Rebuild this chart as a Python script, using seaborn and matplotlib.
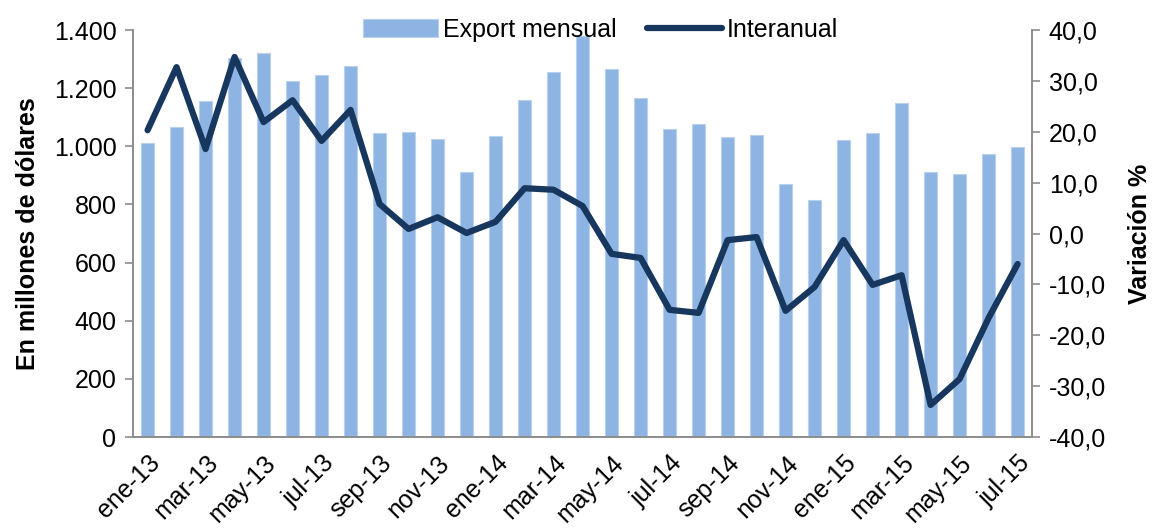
import seaborn as sns
import pandas as pd
import matplotlib.pyplot as plt
from matplotlib.ticker import FuncFormatter, MultipleLocator, FixedLocator

months = ['ene-13', 'feb-13', 'mar-13', 'abr-13', 'may-13', 'jun-13', 'jul-13', 'ago-13',
          'sep-13', 'oct-13', 'nov-13', 'dic-13', 'ene-14', 'feb-14', 'mar-14', 'abr-14',
          'may-14', 'jun-14', 'jul-14', 'ago-14', 'sep-14', 'oct-14', 'nov-14', 'dic-14',
          'ene-15', 'feb-15', 'mar-15', 'abr-15', 'may-15', 'jun-15', 'jul-15']
export_mensual = [1010, 1065, 1155, 1305, 1320, 1225, 1245, 1275, 1045, 1050, 1025, 910,
                  1035, 1160, 1255, 1378, 1265, 1165, 1060, 1078, 1032, 1040, 870, 815,
                  1020, 1045, 1150, 910, 905, 975, 997]
interanual = [20.3, 32.7, 16.6, 34.7, 21.9, 26.2, 18.2, 24.3, 5.8, 0.9, 3.2, 0.1,
              2.3, 8.9, 8.6, 5.4, -4.0, -4.8, -15.0, -15.6, -1.3, -0.7, -15.2, -10.5,
              -1.3, -10.1, -8.2, -33.7, -28.6, -16.6, -6.0]

df = pd.DataFrame({"Mes": months, "Export": export_mensual, "Interanual": interanual,
                   "pos": range(len(months))})

sns.set_style("white")
plt.rcParams['font.family'] = ['Liberation Sans', 'DejaVu Sans']
plt.rcParams['text.color'] = 'black'
plt.rcParams['axes.labelcolor'] = 'black'
plt.rcParams['xtick.labelcolor'] = 'black'
plt.rcParams['ytick.labelcolor'] = 'black'

bar_color = "#8DB4E2"
line_color = "#17375E"
spine_color = "#8C8C8C"
fs = 18

fig = plt.figure(figsize=(11.55, 5.31), dpi=100)
ax = fig.add_axes([0.1152, 0.177, 0.7784, 0.7665])
sns.barplot(data=df, x="Mes", y="Export", color=bar_color, width=0.45,
            edgecolor="#B9D1EE", linewidth=0.8, saturation=1, ax=ax,
            label="Export mensual")
ax2 = ax.twinx()
sns.lineplot(data=df, x="pos", y="Interanual", color=line_color, linewidth=4.5,
             ax=ax2, label="Interanual")

ax.set_xlim(-0.5, len(months) - 0.5)
ax.set_ylim(0, 1400)
ax2.set_ylim(-40, 40)
ax.yaxis.set_major_locator(MultipleLocator(200))
ax2.yaxis.set_major_locator(MultipleLocator(10))
ax.yaxis.set_major_formatter(FuncFormatter(lambda v, p: f"{int(v):,}".replace(",", ".")))
ax2.yaxis.set_major_formatter(FuncFormatter(lambda v, p: f"{v:.1f}".replace(".", ",")))

ax.set_xticks(range(0, len(months), 2))
ax.set_xticklabels(months[::2], rotation=45, ha="right", rotation_mode="anchor", fontsize=fs)
ax.xaxis.set_minor_locator(FixedLocator([i - 0.5 for i in range(len(months) + 1)]))
ax.tick_params(axis="x", which="major", length=0, pad=10, labelcolor="black")
ax.tick_params(axis="x", which="minor", length=6, color=spine_color, width=1.2, direction="out")
ax.tick_params(axis="y", labelsize=fs, length=6, color=spine_color, width=1.2, direction="out",
               left=True, pad=6, labelcolor="black")
ax2.tick_params(axis="y", labelsize=fs, length=6, color=spine_color, width=1.2, direction="out",
                right=True, pad=6, labelcolor="black")

ax.set_xlabel("")
ax2.set_xlabel("")
ax.set_ylabel("En millones de dólares", fontsize=fs, fontweight="bold", labelpad=10, color="black")
ax2.set_ylabel("Variación %", fontsize=fs, fontweight="bold", labelpad=16, color="black")

for a in (ax, ax2):
    a.spines["top"].set_visible(False)
    for s in ("left", "right", "bottom"):
        a.spines[s].set_color(spine_color)
        a.spines[s].set_linewidth(1.2)

h1, l1 = ax.get_legend_handles_labels()
h2, l2 = ax2.get_legend_handles_labels()
if ax.get_legend():
    ax.get_legend().remove()
leg = ax2.legend(h1 + h2, l1 + l2, loc="upper center", bbox_to_anchor=(0.52, 1.085), ncol=2,
                 frameon=False, fontsize=fs, handlelength=3.0, columnspacing=1.2, handletextpad=0.2)
for t in leg.get_texts():
    t.set_color("black")

fig.savefig("out.png", dpi=100)
